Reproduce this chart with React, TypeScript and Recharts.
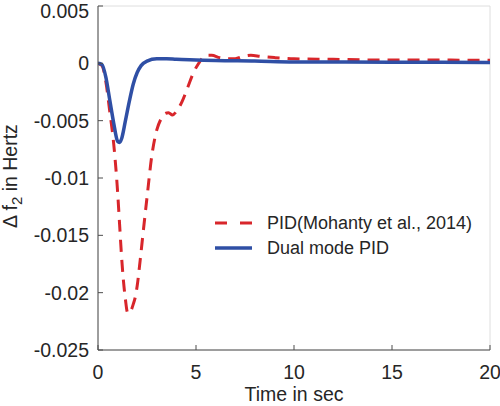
import { CartesianGrid, Line, LineChart, XAxis, YAxis } from "recharts";

const FONT = "'Liberation Sans', Arial, Helvetica, sans-serif";
const COLORS = {
  pid: "#d8262b",
  dual: "#2f4fa5",
  grid: "#dedede",
  axis: "#4d4d4d",
  text: "#262626",
};

// Time axis (sec) and responses
const pidTime = [
  0, 0.2, 0.4, 0.6, 0.8, 1.0, 1.1, 1.2, 1.3, 1.4, 1.5, 1.6, 1.7, 1.8, 1.9, 2.0,
  2.15, 2.3, 2.5, 2.75, 3.0, 3.2, 3.4, 3.6, 3.8, 4.0, 4.3, 4.6, 4.9, 5.1, 5.3,
  5.5, 5.8, 6.2, 6.6, 7.0, 7.4, 7.8, 8.3, 9, 10, 12, 14, 16, 18, 20,
];
const pidValues = [
  0, -0.0002, -0.0016, -0.0042, -0.007, -0.0112, -0.014, -0.0168, -0.019,
  -0.0206, -0.0217, -0.0218, -0.0215, -0.021, -0.0204, -0.0194, -0.0172,
  -0.0148, -0.0117, -0.008, -0.0058, -0.0049, -0.0044, -0.0043, -0.0045,
  -0.0042, -0.0033, -0.002, -0.0007, -0.0001, 0.0004, 0.0007, 0.0007, 0.0005,
  0.0004, 0.0004, 0.0006, 0.0007, 0.0006, 0.0005, 0.0004, 0.00035, 0.0003,
  0.0003, 0.00028, 0.00026,
];

const dualTime = [
  0, 0.2, 0.4, 0.6, 0.8, 1.0, 1.1, 1.2, 1.4, 1.6, 1.8, 2.0, 2.2, 2.5, 3.0, 3.5,
  4, 5, 6, 8, 10, 15, 20,
];
const dualValues = [
  0, -0.0001, -0.0012, -0.0032, -0.0052, -0.0068, -0.0069, -0.0066, -0.005,
  -0.0033, -0.0018, -0.0008, -0.0002, 0.0002, 0.0004, 0.0004, 0.00035, 0.0003,
  0.00025, 0.0002, 0.00012, 0.0001, 0.00008,
];

const xTicks = [0, 5, 10, 15, 20];
const yTicks = [-0.025, -0.02, -0.015, -0.01, -0.005, 0, 0.005];
const yTickLabels = ["-0.025", "-0.02", "-0.015", "-0.01", "-0.005", "0", "0.005"];

const seriesNames = ["PID(Mohanty et al., 2014)", "Dual mode PID"];

const pidData = pidTime.map((t, i) => ({ t, v: pidValues[i] }));
const dualData = dualTime.map((t, i) => ({ t, v: dualValues[i] }));

function yTickLabel(v: number): string {
  const i = yTicks.findIndex((y) => Math.abs(y - v) < 1e-9);
  return i >= 0 ? yTickLabels[i] : String(v);
}

// MATLAB-style legend, box off, drawn over the plot
function LegendBox() {
  return (
    <svg
      width={270}
      height={50}
      style={{ position: "absolute", left: 215, top: 210, overflow: "visible" }}
    >
      <line x1={0} y1={13} x2={37} y2={13} stroke={COLORS.pid} strokeWidth={3} strokeDasharray="12 13" />
      <text x={52} y={13} dy="0.35em" fontSize={18} fontFamily={FONT} fill={COLORS.text}>
        {seriesNames[0]}
      </text>
      <line x1={0} y1={38} x2={37} y2={38} stroke={COLORS.dual} strokeWidth={3.5} />
      <text x={52} y={38} dy="0.35em" fontSize={18} fontFamily={FONT} fill={COLORS.text}>
        {seriesNames[1]}
      </text>
    </svg>
  );
}

const tickStyle = { fill: COLORS.text, fontSize: 19.5, fontFamily: FONT };

export default function App() {
  return (
    <div style={{ position: "fixed", left: 0, top: 0, width: 500, height: 406, background: "#fff" }}>
      <LineChart
        width={500}
        height={406}
        margin={{ top: 6, right: 10, bottom: 0, left: 0 }}
      >
        <CartesianGrid stroke={COLORS.grid} strokeWidth={1} />
        <XAxis
          xAxisId="b"
          type="number"
          dataKey="t"
          domain={[0, 20]}
          ticks={xTicks}
          height={56}
          tick={tickStyle}
          tickSize={-5}
          tickMargin={20}
          stroke={COLORS.axis}
          allowDataOverflow
          label={{
            content: () => (
              <text x={294} y={401} textAnchor="middle" fontSize={19.5} fontFamily={FONT} fill={COLORS.text}>
                Time in sec
              </text>
            ),
          }}
        />
        <XAxis
          xAxisId="t"
          orientation="top"
          type="number"
          dataKey="t"
          domain={[0, 20]}
          ticks={xTicks}
          height={0}
          tickSize={-5}
          tickFormatter={() => ""}
          stroke={COLORS.axis}
        />
        <YAxis
          yAxisId="l"
          type="number"
          domain={[-0.025, 0.005]}
          ticks={yTicks}
          width={98}
          tick={tickStyle}
          tickSize={-5}
          tickMargin={14}
          tickFormatter={yTickLabel}
          stroke={COLORS.axis}
          allowDataOverflow
          label={{
            content: () => (
              <text transform="rotate(-90)" x={-176} y={17} textAnchor="middle" fontSize={19.5} fontFamily={FONT} fill={COLORS.text}>
                <tspan>Δ f</tspan>
                <tspan dy={5} fontSize={15}>2</tspan>
                <tspan dy={-5}> in Hertz</tspan>
              </text>
            ),
          }}
        />
        <YAxis
          yAxisId="r"
          orientation="right"
          type="number"
          domain={[-0.025, 0.005]}
          ticks={yTicks}
          width={0}
          tickSize={-5}
          tickFormatter={() => ""}
          stroke={COLORS.axis}
        />
        <Line
          xAxisId="b"
          yAxisId="l"
          data={pidData}
          dataKey="v"
          name={seriesNames[0]}
          type="monotone"
          stroke={COLORS.pid}
          strokeWidth={3}
          strokeDasharray="12 8"
          dot={false}
          isAnimationActive={false}
        />
        <Line
          xAxisId="b"
          yAxisId="l"
          data={dualData}
          dataKey="v"
          name={seriesNames[1]}
          type="monotone"
          stroke={COLORS.dual}
          strokeWidth={3.5}
          dot={false}
          isAnimationActive={false}
        />
      </LineChart>
      <LegendBox />
    </div>
  );
}
